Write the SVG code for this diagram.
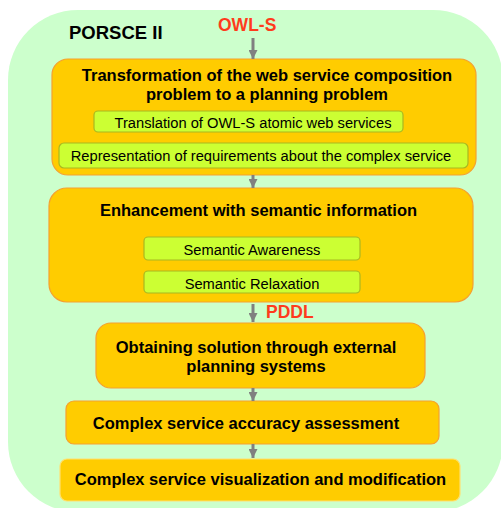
<svg xmlns="http://www.w3.org/2000/svg" width="501" height="508" viewBox="0 0 501 508">
<style>
.bg{fill:#ccffcc;}
.box{fill:#ffcc00;stroke:#f5a030;stroke-width:1.2;}
.box5{fill:#ffcc00;stroke:#ffe070;stroke-width:1.2;}
.sub{fill:#ccff33;stroke:#a8b820;stroke-width:1.2;}
.t{font-family:"Liberation Sans",Arial,sans-serif;font-weight:bold;font-size:16.5px;fill:#000;text-anchor:middle;}
.s{font-family:"Liberation Sans",Arial,sans-serif;font-size:14.7px;fill:#000;text-anchor:middle;}
.red{font-family:"Liberation Sans",Arial,sans-serif;font-weight:bold;font-size:17.5px;fill:#ff3b1c;}
.conn{stroke:#808080;stroke-width:3;fill:none;marker-end:url(#ah);}
</style>
<defs>
<marker id="ah" viewBox="0 0 10 10" refX="10" refY="5" markerWidth="9" markerHeight="9" markerUnits="userSpaceOnUse" orient="auto">
<path d="M0,0 L10,5 L0,10 z" fill="#808080"/>
</marker>
</defs>
<g id="container">
<rect class="bg" x="8" y="10" width="495" height="502" rx="70" ry="70"/>
<text x="69" y="39" font-family="Liberation Sans, Arial, sans-serif" font-weight="bold" font-size="18.5" fill="#000">PORSCE II</text>
</g>
<g id="input-owls"><text class="red" x="218" y="31">OWL-S</text></g>
<g id="transformation">
<rect class="box" x="52" y="59" width="424" height="116" rx="16"/>
<text class="t" x="267" y="81">Transformation of the web service composition</text>
<text class="t" x="267" y="100">problem to a planning problem</text>
</g>
<g id="translation">
<rect class="sub" x="94" y="111" width="309" height="21" rx="4"/>
<text class="s" x="253" y="127.5">Translation of OWL-S atomic web services</text>
</g>
<g id="representation">
<rect class="sub" x="59" y="143" width="409" height="25" rx="5"/>
<text class="s" x="261" y="161">Representation of requirements about the complex service</text>
</g>
<g id="enhancement">
<rect class="box" x="49" y="188" width="424" height="114" rx="18"/>
<text class="t" x="258.5" y="216">Enhancement with semantic information</text>
</g>
<g id="awareness">
<rect class="sub" x="144" y="237" width="216" height="23" rx="4"/>
<text class="s" x="252" y="255">Semantic Awareness</text>
</g>
<g id="relaxation">
<rect class="sub" x="144" y="271" width="216" height="22" rx="4"/>
<text class="s" x="252" y="288.5">Semantic Relaxation</text>
</g>
<g id="pddl"><text class="red" x="266" y="318">PDDL</text></g>
<g id="obtaining">
<rect class="box" x="96" y="323" width="329" height="65" rx="15"/>
<text class="t" x="256" y="353">Obtaining solution through external</text>
<text class="t" x="256" y="372">planning systems</text>
</g>
<g id="accuracy">
<rect class="box" x="66" y="401" width="373" height="43" rx="8"/>
<text class="t" x="246" y="429">Complex service accuracy assessment</text>
</g>
<g id="visualization">
<rect class="box5" x="60" y="459" width="400" height="42" rx="7"/>
<text class="t" x="260.5" y="485">Complex service visualization and modification</text>
</g>
<g id="connectors">
<line class="conn" x1="253" y1="38" x2="253" y2="59"/>
<line class="conn" x1="253" y1="175" x2="253" y2="188"/>
<line class="conn" x1="253" y1="304" x2="253" y2="322"/>
<line class="conn" x1="253" y1="388" x2="253" y2="401"/>
<line class="conn" x1="253" y1="444" x2="253" y2="458"/>
</g>
</svg>
